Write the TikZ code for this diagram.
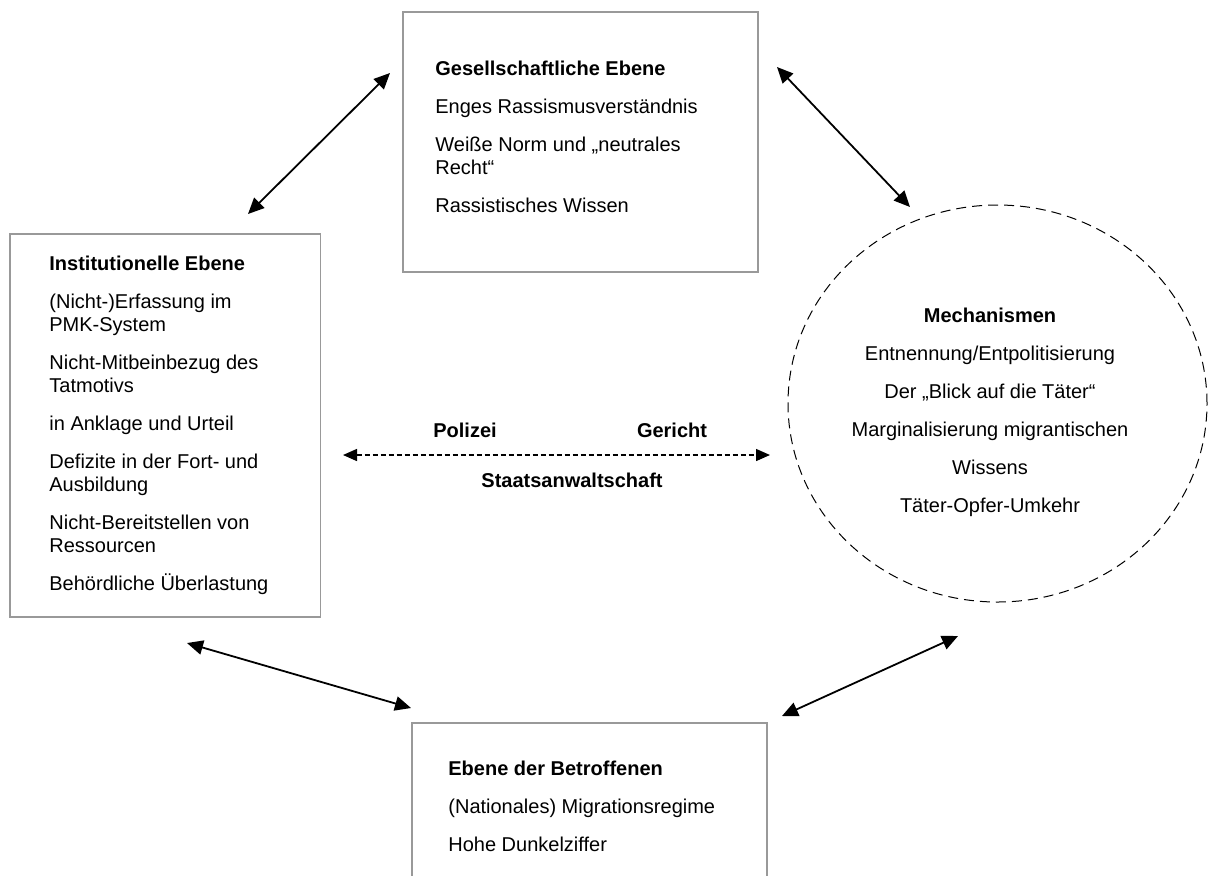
\documentclass[tikz,border=0pt]{standalone}
\usepackage{fontspec}
\setmainfont{Liberation Sans}
\usetikzlibrary{arrows.meta, shapes.geometric}

\tikzset{
  ebene/.style={draw=gray!80, line width=0.6pt, anchor=north west, inner sep=0pt, outer sep=0pt},
  liste/.style={anchor=north west, align=left, inner sep=0pt, font=\fontsize{10}{11.5}\selectfont},
  label/.style={inner sep=0pt, font=\fontsize{10}{11.5}\selectfont\bfseries},
  pfeil/.style={{Triangle[length=8pt,width=7.2pt]}-{Triangle[length=8pt,width=7.2pt]}, line width=0.9pt},
}

\begin{document}
\begin{tikzpicture}[x=0.5pt, y=-0.5pt]
  \useasboundingbox (0,0) rectangle (1208,875);
  \clip (0,0) rectangle (1208,875);

  % Boxes
  \node[ebene, minimum width=177.5pt, minimum height=130pt] (ges) at (403,12) {};
  \node[ebene, minimum width=155.35pt, minimum height=191.5pt] (inst) at (10,234) {};
  \node[ebene, minimum width=177.5pt, minimum height=100pt] (betr) at (412,723) {};
  \node[draw, dashed, dash pattern=on 5pt off 3pt, line width=0.5pt, ellipse,
        minimum width=209.5pt, minimum height=198.5pt, inner sep=0pt] (mech) at (997.5,403.5) {};

  % Texts
  \node[liste] (gestext) at (435,61) {\textbf{Gesellschaftliche Ebene}\\[7.5pt]
    Enges Rassismusverständnis\\[7.5pt]
    Weiße Norm und „neutrales\\Recht“\\[7.5pt]
    Rassistisches Wissen};
  \node[liste] (insttext) at (49,256) {\textbf{Institutionelle Ebene}\\[7.5pt]
    (Nicht-)Erfassung im\\PMK-System\\[7.5pt]
    Nicht-Mitbeinbezug des\\Tatmotivs\\[7.5pt]
    in Anklage und Urteil\\[7.5pt]
    Defizite in der Fort- und\\Ausbildung\\[7.5pt]
    Nicht-Bereitstellen von\\Ressourcen\\[7.5pt]
    Behördliche Überlastung};
  \node[liste] (betrtext) at (448,761) {\textbf{Ebene der Betroffenen}\\[7.5pt]
    (Nationales) Migrationsregime\\[7.5pt]
    Hohe Dunkelziffer};
  \node[liste, anchor=north, align=center] (mechtext) at (990,308) {\textbf{Mechanismen}\\[7.5pt]
    Entnennung/Entpolitisierung\\[7.5pt]
    Der „Blick auf die Täter“\\[7.5pt]
    Marginalisierung migrantischen\\[7.5pt]
    Wissens\\[7.5pt]
    Täter-Opfer-Umkehr};

  % Justice labels
  \node[label] (pol) at (465,430) {Polizei};
  \node[label] (ger) at (672,430) {Gericht};
  \node[label] (sta) at (572,480) {Staatsanwaltschaft};

  % Arrow ends
  \coordinate (a1) at (248,214);
  \coordinate (b1) at (390,73);
  \coordinate (a2) at (777,67);
  \coordinate (b2) at (910,207);
  \coordinate (a3) at (187,643);
  \coordinate (b3) at (411,708);
  \coordinate (a4) at (782,716);
  \coordinate (b4) at (958,636);
  \coordinate (a5) at (343,455);
  \coordinate (b5) at (770,455);

  \draw[pfeil] (a1) -- (b1);
  \draw[pfeil] (a2) -- (b2);
  \draw[pfeil] (a3) -- (b3);
  \draw[pfeil] (a4) -- (b4);
  \draw[{Triangle[length=7pt,width=6pt]}-{Triangle[length=7pt,width=6pt]}, line width=0.7pt,
        dash pattern=on 2.5pt off 1.5pt] (a5) -- (b5);
\end{tikzpicture}
\end{document}
